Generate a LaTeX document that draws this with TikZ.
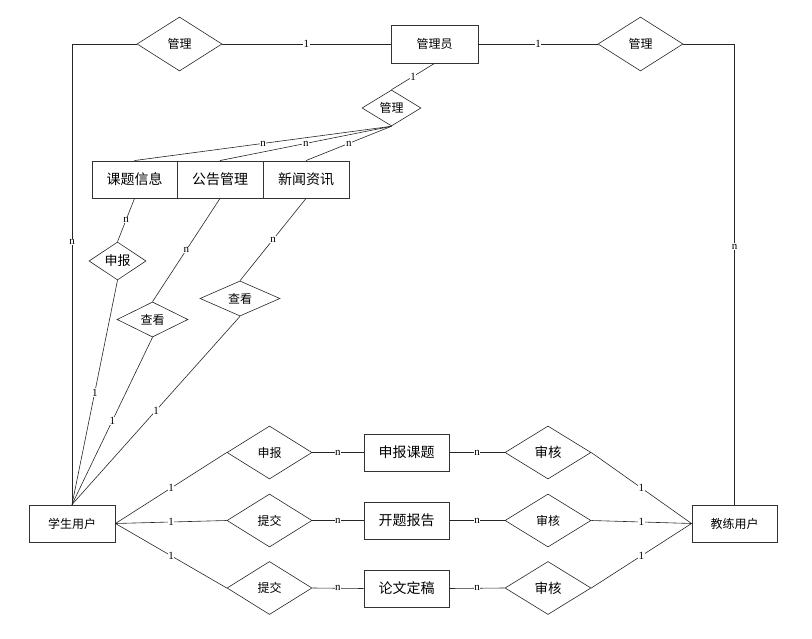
\documentclass[tikz,border=0pt]{standalone}
\usepackage{fontspec}
\setmainfont{Liberation Serif}
\newfontfamily\cjk{Noto Sans CJK SC}
\usetikzlibrary{shapes.geometric}
\begin{document}
\begin{tikzpicture}[x=1pt,y=-1pt,
  ent/.style={draw=black!80,line width=0.9pt,rectangle,inner sep=0pt,minimum width=#1,minimum height=37pt,font=\cjk\fontsize{12}{12}\selectfont},
  ent/.default=86pt,
  rel/.style={draw=black!85,line width=0.6pt,diamond,inner sep=0pt,font=\cjk\fontsize{12}{12}\selectfont},
  conn/.style={draw=black!85,line width=0.6pt},
  lbl/.style={fill=white,inner sep=0.6pt,font=\fontsize{11}{11}\selectfont}
]
\useasboundingbox (0,0) rectangle (812,639);

% entities
\node[ent=87pt,minimum height=38pt] (admin) at (434.5,44) {管理员};
\node[ent=85pt,font=\cjk\fontsize{14}{14}\selectfont] (ktxx) at (134.5,179.5) {课题信息};
\node[ent=86pt,font=\cjk\fontsize{14}{14}\selectfont] (gggl) at (220,179.5) {公告管理};
\node[ent=86pt,font=\cjk\fontsize{14}{14}\selectfont] (xwzx) at (306,179.5) {新闻资讯};
\node[ent=86pt] (stu) at (72,523.5) {学生用户};
\node[ent=85pt] (tea) at (734.5,523.5) {教练用户};
\node[ent=85pt,font=\cjk\fontsize{14}{14}\selectfont] (sbkt) at (406.5,452.5) {申报课题};
\node[ent=85pt,font=\cjk\fontsize{14}{14}\selectfont] (ktbg) at (406.5,520.5) {开题报告};
\node[ent=85pt,font=\cjk\fontsize{14}{14}\selectfont] (lwdg) at (406.5,588.5) {论文定稿};

% relationships
\node[rel,minimum width=85pt,minimum height=54pt] (glL) at (179.5,44) {管理};
\node[rel,minimum width=85pt,minimum height=54pt] (glR) at (640.5,44) {管理};
\node[rel,minimum width=59pt,minimum height=36pt] (glM) at (391.5,108) {管理};
\node[rel,minimum width=57pt,minimum height=34pt,font=\cjk\fontsize{13}{13}\selectfont] (sbL) at (117.5,261) {申报};
\node[rel,minimum width=71pt,minimum height=29pt] (ck1) at (152.5,319.5) {查看};
\node[rel,minimum width=80pt,minimum height=33pt] (ck2) at (240,298.5) {查看};
\node[rel,minimum width=85pt,minimum height=53pt] (sbB) at (269.5,452.5) {申报};
\node[rel,minimum width=85pt,minimum height=53pt] (tj1) at (269.5,520.5) {提交};
\node[rel,minimum width=85pt,minimum height=53pt] (tj2) at (269.5,588) {提交};
\node[rel,minimum width=86pt,minimum height=53pt,font=\cjk\fontsize{13.5}{13.5}\selectfont] (sh1) at (548,452.5) {审核};
\node[rel,minimum width=86pt,minimum height=53pt] (sh2) at (548,520.5) {审核};
\node[rel,minimum width=86pt,minimum height=53pt,font=\cjk\fontsize{13.5}{13.5}\selectfont] (sh3) at (548,588) {审核};

% top connectors
\draw[conn] (glL.east) -- node[lbl]{1} (admin.west);
\draw[conn] (admin.east) -- node[lbl]{1} (glR.west);
\draw[conn] (glL.west) -| node[lbl,pos=0.715]{n} (stu.north);
\draw[conn] (glR.east) -| node[lbl,pos=0.72]{n} (tea.north);
\draw[conn] (admin.south) -- node[lbl]{1} (glM.north);
\draw[conn] (glM.south) -- node[lbl]{n} (ktxx.north);
\draw[conn] (glM.south) -- node[lbl]{n} (gggl.north);
\draw[conn] (glM.south) -- node[lbl]{n} (xwzx.north);

% middle-left connectors
\draw[conn] (ktxx.south) -- node[lbl]{n} (sbL.north);
\draw[conn] (sbL.south) -- node[lbl]{1} (stu.north);
\draw[conn] (gggl.south) -- node[lbl]{n} (ck1.north);
\draw[conn] (ck1.south) -- node[lbl]{1} (stu.north);
\draw[conn] (xwzx.south) -- node[lbl]{n} (ck2.north);
\draw[conn] (ck2.south) -- node[lbl]{1} (stu.north);

% bottom connectors
\draw[conn] (stu.east) -- node[lbl]{1} (sbB.west);
\draw[conn] (stu.east) -- node[lbl]{1} (tj1.west);
\draw[conn] (stu.east) -- node[lbl]{1} (tj2.west);
\draw[conn] (sbB.east) -- node[lbl]{n} (sbkt.west);
\draw[conn] (tj1.east) -- node[lbl]{n} (ktbg.west);
\draw[conn] (tj2.east) -- node[lbl]{n} (lwdg.west);
\draw[conn] (sbkt.east) -- node[lbl]{n} (sh1.west);
\draw[conn] (ktbg.east) -- node[lbl]{n} (sh2.west);
\draw[conn] (lwdg.east) -- node[lbl]{n} (sh3.west);
\draw[conn] (sh1.east) -- node[lbl]{1} (tea.west);
\draw[conn] (sh2.east) -- node[lbl]{1} (tea.west);
\draw[conn] (sh3.east) -- node[lbl]{1} (tea.west);
\end{tikzpicture}
\end{document}
